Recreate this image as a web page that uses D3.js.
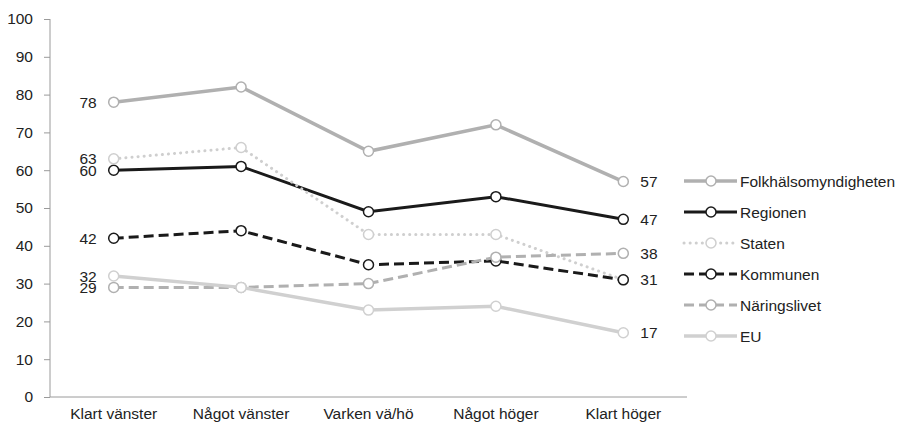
<!DOCTYPE html>
<html>
<head>
<meta charset="utf-8">
<script src="https://cdn.jsdelivr.net/npm/d3@7"></script>
<style>
  body { margin: 0; background: #fff; }
  svg text { font-family: "Liberation Sans", Arial, sans-serif; fill: #222; }
</style>
</head>
<body>
<div id="chart"></div>
<script>
// Categories along the x axis
const CATEGORIES = ['Klart vänster', 'Något vänster', 'Varken vä/hö', 'Något höger', 'Klart höger'];
const Y_TICKS = [0, 10, 20, 30, 40, 50, 60, 70, 80, 90, 100];

// Series values (percent)
const FOLKHALSO = [78, 82, 65, 72, 57];
const REGIONEN  = [60, 61, 49, 53, 47];
const STATEN    = [63, 66, 43, 43, 31];
const KOMMUNEN  = [42, 44, 35, 36, 31];
const NARINGS   = [29, 29, 30, 37, 38];
const EU        = [32, 29, 23, 24, 17];

const SERIES_NAMES = ['Folkhälsomyndigheten', 'Regionen', 'Staten', 'Kommunen', 'Näringslivet', 'EU'];
const SERIES_VALUES = [FOLKHALSO, REGIONEN, STATEN, KOMMUNEN, NARINGS, EU];
// label first / last point?
const LABEL_FIRST = [true, true, true, true, true, true];
const LABEL_LAST  = [true, true, false, true, true, true];

const STYLES = [
    { color: '#b0b0b0', width: 3.5, dash: null,     cap: 'butt'  },
    { color: '#1a1a1a', width: 3,   dash: null,     cap: 'butt'  },
    { color: '#cfcfcf', width: 3,   dash: '0.1,6',  cap: 'round' },
    { color: '#1a1a1a', width: 3,   dash: '10,5',   cap: 'butt'  },
    { color: '#b0b0b0', width: 3,   dash: '10,5',   cap: 'butt'  },
    { color: '#d0d0d0', width: 3.5, dash: null,     cap: 'butt'  }
];

const FS = '15.5px';

(function () {
    const width = 900, height = 426;
    const margin = { top: 19, left: 50, bottom: 29 };
    const plotRight = 687;
    const innerH = height - margin.top - margin.bottom;

    const svg = d3.select('#chart').append('svg')
        .attr('width', width).attr('height', height);

    const x = d3.scaleBand().domain(CATEGORIES).range([margin.left, plotRight]);
    const y = d3.scaleLinear().domain([0, 100]).range([margin.top + innerH, margin.top]);
    const cx = c => x(c) + x.bandwidth() / 2;

    // Y axis
    const yAxis = svg.append('g').attr('transform', `translate(${margin.left},0)`)
        .call(d3.axisLeft(y).tickValues(Y_TICKS).tickSize(6).tickPadding(11));
    yAxis.selectAll('line, path').attr('stroke', '#9a9a9a');
    yAxis.select('.domain').attr('d', `M0,${y(0)}V${y(100)}`);
    yAxis.selectAll('text').attr('font-size', FS).attr('fill', '#222')
        .attr('font-family', '"Liberation Sans", Arial, sans-serif');

    // X axis
    const xAxis = svg.append('g').attr('transform', `translate(0,${y(0)})`)
        .call(d3.axisBottom(x).tickSize(0).tickPadding(11));
    xAxis.select('.domain').attr('stroke', '#9a9a9a').attr('d', `M${margin.left},0H${plotRight}`);
    xAxis.selectAll('text').attr('font-size', FS).attr('fill', '#222')
        .attr('font-family', '"Liberation Sans", Arial, sans-serif');

    const line = d3.line().x((d, i) => cx(CATEGORIES[i])).y(d => y(d));

    SERIES_VALUES.forEach((vals, s) => {
        const st = STYLES[s];
        svg.append('path').datum(vals)
            .attr('fill', 'none')
            .attr('stroke', st.color)
            .attr('stroke-width', st.width)
            .attr('stroke-dasharray', st.dash)
            .attr('stroke-linecap', st.cap)
            .attr('d', line);

        svg.selectAll(null).data(vals).enter().append('circle')
            .attr('cx', (d, i) => cx(CATEGORIES[i]))
            .attr('cy', d => y(d))
            .attr('r', 5)
            .attr('fill', '#fff')
            .attr('stroke', st.color)
            .attr('stroke-width', 1.5);
    });

    // Data labels
    SERIES_VALUES.forEach((vals, s) => {
        if (LABEL_FIRST[s]) {
            svg.append('text')
                .attr('x', cx(CATEGORIES[0]) - 17).attr('y', y(vals[0]))
                .attr('dy', '0.36em')
                .attr('text-anchor', 'end').attr('font-size', FS)
                .text(vals[0]);
        }
        const last = vals.length - 1;
        if (LABEL_LAST[s]) {
            svg.append('text')
                .attr('x', cx(CATEGORIES[last]) + 17).attr('y', y(vals[last]))
                .attr('dy', '0.36em')
                .attr('text-anchor', 'start').attr('font-size', FS)
                .text(vals[last]);
        }
    });

    // Legend
    const legend = svg.append('g').attr('transform', 'translate(684,181)');
    SERIES_NAMES.forEach((name, s) => {
        const st = STYLES[s];
        const g = legend.append('g').attr('transform', `translate(0,${s * 31})`);
        g.append('line').attr('x1', 0).attr('x2', 53).attr('y1', 0).attr('y2', 0)
            .attr('stroke', st.color).attr('stroke-width', st.width)
            .attr('stroke-dasharray', st.dash).attr('stroke-linecap', st.cap);
        g.append('circle').attr('cx', 27).attr('cy', 0).attr('r', 5)
            .attr('fill', '#fff').attr('stroke', st.color).attr('stroke-width', 1.5);
        g.append('text').attr('x', 56).attr('y', 0).attr('dy', '0.36em')
            .attr('font-size', FS).text(name);
    });
})();
</script>
</body>
</html>
